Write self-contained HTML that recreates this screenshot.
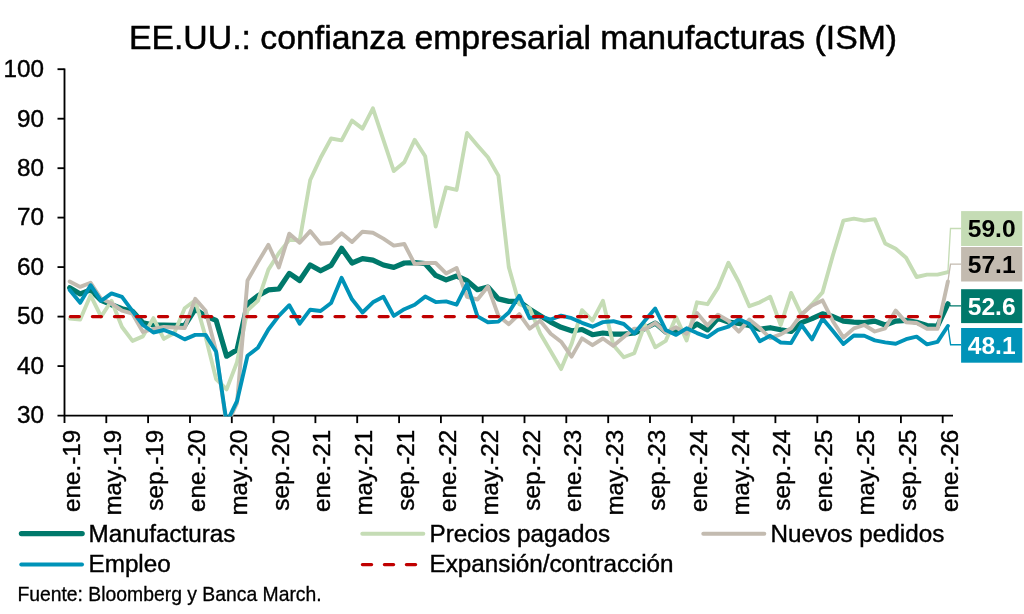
<!DOCTYPE html>
<html lang="es"><head><meta charset="utf-8"><title>EE.UU.: confianza empresarial manufacturas (ISM)</title>
<style>html,body{margin:0;padding:0;background:#fff;}body{width:1024px;height:614px;position:relative;overflow:hidden;font-family:"Liberation Sans",sans-serif;}svg text{font-family:"Liberation Sans",sans-serif;}</style>
</head><body>
<svg width="1024" height="614" viewBox="0 0 1024 614" style="position:absolute;left:0;top:0">
<defs><clipPath id="cp"><rect x="60" y="60" width="900" height="356.5"/></clipPath></defs>
<g stroke="#000" stroke-width="1.85" fill="none">
<path d="M64.5 68.4 V423.1"/>
<path d="M57.5 415.6 H953"/>
<path d="M57.5 366.1 H64.5"/>
<path d="M57.5 316.6 H64.5"/>
<path d="M57.5 267.1 H64.5"/>
<path d="M57.5 217.6 H64.5"/>
<path d="M57.5 168.2 H64.5"/>
<path d="M57.5 118.7 H64.5"/>
<path d="M57.5 69.2 H64.5"/>
<path d="M106.3 415.6 V423.1"/>
<path d="M148.1 415.6 V423.1"/>
<path d="M190.0 415.6 V423.1"/>
<path d="M231.8 415.6 V423.1"/>
<path d="M273.6 415.6 V423.1"/>
<path d="M315.4 415.6 V423.1"/>
<path d="M357.2 415.6 V423.1"/>
<path d="M399.1 415.6 V423.1"/>
<path d="M440.9 415.6 V423.1"/>
<path d="M482.7 415.6 V423.1"/>
<path d="M524.5 415.6 V423.1"/>
<path d="M566.3 415.6 V423.1"/>
<path d="M608.2 415.6 V423.1"/>
<path d="M650.0 415.6 V423.1"/>
<path d="M691.8 415.6 V423.1"/>
<path d="M733.6 415.6 V423.1"/>
<path d="M775.4 415.6 V423.1"/>
<path d="M817.3 415.6 V423.1"/>
<path d="M859.1 415.6 V423.1"/>
<path d="M900.9 415.6 V423.1"/>
<path d="M942.7 415.6 V423.1"/>
</g>
<g clip-path="url(#cp)" fill="none" stroke-linejoin="round" stroke-linecap="round">
<path d="M69.7 287.7 L80.2 293.9 L90.6 289.9 L101.1 300.3 L111.5 304.7 L122.0 308.7 L132.5 311.2 L142.9 322.8 L153.4 325.0 L163.8 325.0 L174.3 325.3 L184.7 325.5 L195.2 309.2 L205.6 316.1 L216.1 320.3 L226.6 356.2 L237.0 349.8 L247.5 303.8 L257.9 295.8 L268.4 289.9 L278.8 289.0 L289.3 273.4 L299.7 280.5 L310.2 264.9 L320.6 270.8 L331.1 265.4 L341.6 248.3 L352.0 263.0 L362.5 258.6 L372.9 260.1 L383.4 265.0 L393.8 267.4 L404.3 263.0 L414.7 262.7 L425.2 263.7 L435.7 275.4 L446.1 279.9 L456.6 276.0 L467.0 280.6 L477.5 289.7 L487.9 287.1 L498.4 298.9 L508.8 301.4 L519.3 301.3 L529.7 309.2 L540.2 315.6 L550.7 322.1 L561.1 327.3 L571.6 330.8 L582.0 329.5 L592.5 334.7 L602.9 333.0 L613.4 334.2 L623.8 334.2 L634.3 333.0 L644.8 328.5 L655.2 323.1 L665.7 332.0 L676.1 331.5 L686.6 331.0 L697.0 324.0 L707.5 329.9 L717.9 318.2 L728.4 322.1 L738.8 323.4 L749.3 325.5 L759.8 329.3 L770.2 327.7 L780.7 329.8 L791.1 331.5 L801.6 322.6 L812.0 318.6 L822.5 313.8 L832.9 316.6 L843.4 321.2 L853.9 322.1 L864.3 322.6 L874.8 321.1 L885.2 325.0 L895.7 321.1 L906.1 320.3 L916.6 322.3 L927.0 325.5 L937.5 326.2 L947.9 303.8" stroke="#00796b" stroke-width="5.2"/>
<path d="M69.7 318.6 L80.2 319.6 L90.6 295.3 L101.1 316.6 L111.5 300.8 L122.0 327.0 L132.5 340.9 L142.9 336.4 L153.4 318.1 L163.8 338.9 L174.3 333.0 L184.7 308.2 L195.2 300.3 L205.6 336.9 L216.1 379.0 L226.6 389.4 L237.0 362.2 L247.5 310.2 L257.9 300.8 L268.4 269.6 L278.8 253.3 L289.3 239.9 L299.7 240.4 L310.2 180.0 L320.6 157.8 L331.1 138.5 L341.6 140.4 L352.0 120.6 L362.5 128.6 L372.9 108.3 L383.4 139.9 L393.8 171.1 L404.3 162.2 L414.7 139.9 L425.2 156.3 L435.7 226.5 L446.1 187.5 L456.6 189.9 L467.0 133.0 L477.5 145.4 L487.9 157.3 L498.4 175.6 L508.8 267.1 L519.3 304.2 L529.7 308.2 L540.2 333.4 L550.7 351.3 L561.1 369.1 L571.6 343.8 L582.0 310.2 L592.5 320.6 L602.9 300.8 L613.4 345.3 L623.8 357.2 L634.3 353.2 L644.8 324.5 L655.2 347.3 L665.7 340.9 L676.1 317.1 L686.6 340.4 L697.0 302.3 L707.5 304.2 L717.9 287.9 L728.4 262.7 L738.8 282.0 L749.3 306.2 L759.8 302.3 L770.2 296.8 L780.7 325.0 L791.1 292.9 L801.6 315.1 L812.0 304.2 L822.5 292.4 L832.9 255.3 L843.4 220.6 L853.9 218.6 L864.3 220.6 L874.8 219.1 L885.2 243.4 L895.7 248.8 L906.1 257.7 L916.6 277.0 L927.0 274.6 L937.5 274.6 L947.9 272.1" stroke="#c5dcb5" stroke-width="3.9"/>
<path d="M69.7 281.5 L80.2 286.9 L90.6 282.7 L101.1 298.8 L111.5 303.3 L122.0 310.7 L132.5 313.7 L142.9 332.0 L153.4 329.0 L163.8 327.0 L174.3 327.5 L184.7 328.0 L195.2 298.8 L205.6 310.7 L216.1 351.3 L226.6 425.5 L237.0 403.2 L247.5 280.5 L257.9 262.3 L268.4 244.8 L278.8 267.5 L289.3 233.7 L299.7 242.8 L310.2 231.1 L320.6 243.7 L331.1 242.9 L341.6 233.2 L352.0 242.0 L362.5 231.7 L372.9 232.7 L383.4 238.6 L393.8 245.6 L404.3 244.0 L414.7 264.0 L425.2 263.0 L435.7 263.0 L446.1 273.4 L456.6 268.0 L467.0 296.9 L477.5 299.5 L487.9 286.5 L498.4 315.8 L508.8 324.2 L519.3 314.1 L529.7 328.6 L540.2 320.8 L550.7 333.8 L561.1 341.7 L571.6 356.6 L582.0 338.4 L592.5 345.2 L602.9 338.5 L613.4 345.8 L623.8 337.1 L634.3 328.6 L644.8 329.3 L655.2 322.8 L665.7 332.5 L676.1 327.3 L686.6 333.8 L697.0 313.0 L707.5 325.4 L717.9 314.7 L728.4 320.8 L738.8 331.6 L749.3 319.5 L759.8 328.0 L770.2 338.1 L780.7 334.4 L791.1 328.3 L801.6 314.0 L812.0 305.6 L822.5 300.4 L832.9 321.2 L843.4 337.5 L853.9 328.4 L864.3 325.0 L874.8 331.5 L885.2 328.3 L895.7 310.6 L906.1 322.3 L916.6 323.0 L927.0 328.8 L937.5 328.8 L947.9 281.5" stroke="#c3bbb0" stroke-width="3.9"/>
<path d="M69.7 289.9 L80.2 302.8 L90.6 285.2 L101.1 300.8 L111.5 293.4 L122.0 296.8 L132.5 311.2 L142.9 325.0 L153.4 332.5 L163.8 330.0 L174.3 333.9 L184.7 339.4 L195.2 334.9 L205.6 334.9 L216.1 351.8 L226.6 422.5 L237.0 401.2 L247.5 355.7 L257.9 347.8 L268.4 329.5 L278.8 315.9 L289.3 305.2 L299.7 323.7 L310.2 309.7 L320.6 311.0 L331.1 303.0 L341.6 277.8 L352.0 299.3 L362.5 312.5 L372.9 302.3 L383.4 296.8 L393.8 315.9 L404.3 309.2 L414.7 304.7 L425.2 296.6 L435.7 302.1 L446.1 301.4 L456.6 304.7 L467.0 283.9 L477.5 316.4 L487.9 322.3 L498.4 321.6 L508.8 312.5 L519.3 295.8 L529.7 318.2 L540.2 316.3 L550.7 319.5 L561.1 315.6 L571.6 318.2 L582.0 322.8 L592.5 326.7 L602.9 322.1 L613.4 321.2 L623.8 324.0 L634.3 333.4 L644.8 320.8 L655.2 308.5 L665.7 329.9 L676.1 334.9 L686.6 328.3 L697.0 333.1 L707.5 337.1 L717.9 329.9 L728.4 326.7 L738.8 319.1 L749.3 324.0 L759.8 341.3 L770.2 335.8 L780.7 342.5 L791.1 343.1 L801.6 325.1 L812.0 339.4 L822.5 318.6 L832.9 331.0 L843.4 344.0 L853.9 335.5 L864.3 335.8 L874.8 340.4 L885.2 342.4 L895.7 343.8 L906.1 339.2 L916.6 336.6 L927.0 344.4 L937.5 341.9 L947.9 326.0" stroke="#0093b8" stroke-width="3.9"/>
<path d="M70.4 316.6 H939.2" stroke="#c00000" stroke-width="3.4" stroke-dasharray="8.9 13.156"/>
</g>
<g font-size="24.25" fill="#000" stroke="#000" stroke-width="0.4">
<text x="43.9" y="423.4" text-anchor="end">30</text>
<text x="43.9" y="373.9" text-anchor="end">40</text>
<text x="43.9" y="324.4" text-anchor="end">50</text>
<text x="43.9" y="274.9" text-anchor="end">60</text>
<text x="43.9" y="225.4" text-anchor="end">70</text>
<text x="43.9" y="176.0" text-anchor="end">80</text>
<text x="43.9" y="126.5" text-anchor="end">90</text>
<text x="43.9" y="77.0" text-anchor="end">100</text>
<text transform="translate(79.5 429.8) rotate(-90)" text-anchor="end">ene.-19</text>
<text transform="translate(121.3 429.8) rotate(-90)" text-anchor="end">may.-19</text>
<text transform="translate(163.1 429.8) rotate(-90)" text-anchor="end">sep.-19</text>
<text transform="translate(205.0 429.8) rotate(-90)" text-anchor="end">ene.-20</text>
<text transform="translate(246.8 429.8) rotate(-90)" text-anchor="end">may.-20</text>
<text transform="translate(288.6 429.8) rotate(-90)" text-anchor="end">sep.-20</text>
<text transform="translate(330.4 429.8) rotate(-90)" text-anchor="end">ene.-21</text>
<text transform="translate(372.2 429.8) rotate(-90)" text-anchor="end">may.-21</text>
<text transform="translate(414.1 429.8) rotate(-90)" text-anchor="end">sep.-21</text>
<text transform="translate(455.9 429.8) rotate(-90)" text-anchor="end">ene.-22</text>
<text transform="translate(497.7 429.8) rotate(-90)" text-anchor="end">may.-22</text>
<text transform="translate(539.5 429.8) rotate(-90)" text-anchor="end">sep.-22</text>
<text transform="translate(581.3 429.8) rotate(-90)" text-anchor="end">ene.-23</text>
<text transform="translate(623.2 429.8) rotate(-90)" text-anchor="end">may.-23</text>
<text transform="translate(665.0 429.8) rotate(-90)" text-anchor="end">sep.-23</text>
<text transform="translate(706.8 429.8) rotate(-90)" text-anchor="end">ene.-24</text>
<text transform="translate(748.6 429.8) rotate(-90)" text-anchor="end">may.-24</text>
<text transform="translate(790.4 429.8) rotate(-90)" text-anchor="end">sep.-24</text>
<text transform="translate(832.3 429.8) rotate(-90)" text-anchor="end">ene.-25</text>
<text transform="translate(874.1 429.8) rotate(-90)" text-anchor="end">may.-25</text>
<text transform="translate(915.9 429.8) rotate(-90)" text-anchor="end">sep.-25</text>
<text transform="translate(957.7 429.8) rotate(-90)" text-anchor="end">ene.-26</text>
</g>
<g fill="none" stroke-width="1.35">
<path d="M947.9 272.1 L950.5 228.5 H961" stroke="#c5dcb5"/>
<path d="M947.9 281.5 L950.5 264.1 H961" stroke="#c3bbb0"/>
<path d="M947.9 303.8 L950.6 305.8 H961" stroke="#00796b"/>
<path d="M947.9 326.0 L950.6 344.7 H961" stroke="#0093b8"/>
</g>
<g font-size="24.6" font-weight="bold" text-anchor="middle">
<rect x="961.1" y="211.1" width="61.2" height="34.9" fill="#c5dcb5"/>
<text x="991.7" y="237.1" fill="#000">59.0</text>
<rect x="961.1" y="247.0" width="61.2" height="34.5" fill="#c3bbb0"/>
<text x="991.7" y="272.8" fill="#000">57.1</text>
<rect x="961.1" y="289.2" width="61.2" height="33.9" fill="#00796b"/>
<text x="991.7" y="314.6" fill="#fff">52.6</text>
<rect x="961.1" y="328.0" width="61.2" height="34.7" fill="#0093b8"/>
<text x="991.7" y="353.9" fill="#fff">48.1</text>
</g>
<g fill="none" stroke-linecap="round">
<path d="M21.4 533.6 H82.2" stroke="#00796b" stroke-width="5.2"/>
<path d="M362.25 533.7 H423.35" stroke="#c5dcb5" stroke-width="3.9"/>
<path d="M703.25 533.7 H764.35" stroke="#c3bbb0" stroke-width="3.9"/>
<path d="M21.25 564.5 H82.05" stroke="#0093b8" stroke-width="3.9"/>
<path d="M362.45 564.6 H415.6" stroke="#c00000" stroke-width="3.4" stroke-dasharray="9.1 12.9"/>
</g>
<g font-size="24.25" fill="#000" stroke="#000" stroke-width="0.4">
<text x="88.5" y="541.8">Manufacturas</text>
<text x="429.5" y="541.8">Precios pagados</text>
<text x="770.4" y="541.8">Nuevos pedidos</text>
<text x="88.5" y="572">Empleo</text>
<text x="429.5" y="572">Expansión/contracción</text>
</g>
<text x="128.9" y="49.4" font-size="33.8" fill="#000" stroke="#000" stroke-width="0.5">EE.UU.: confianza empresarial manufacturas (ISM)</text>
<text x="17.4" y="600.6" font-size="19.35" fill="#000" stroke="#000" stroke-width="0.3">Fuente: Bloomberg y Banca March.</text>
</svg>
</body></html>
